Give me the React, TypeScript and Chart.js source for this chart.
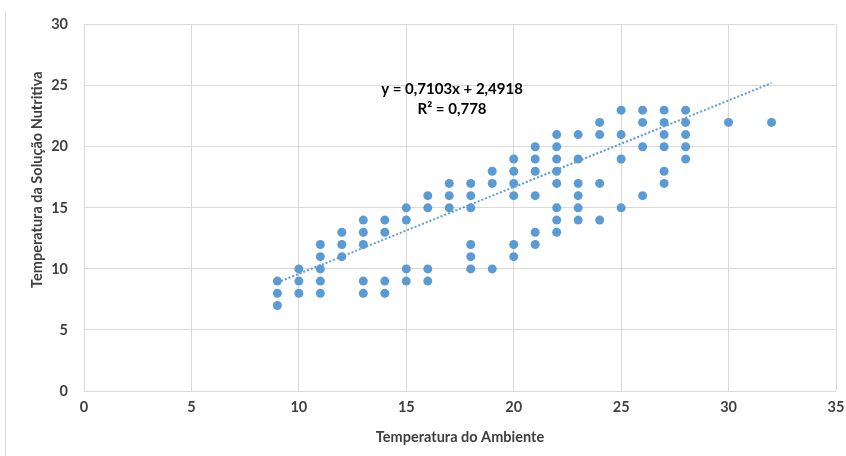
import React, { useEffect, useRef } from "react";
import { Chart, registerables } from "chart.js";

Chart.register(...registerables);

// Ambient temperature (x) and nutrient-solution temperature (y), one pair per point
const ambient = [
  9, 9, 9,
  10, 10, 10,
  11, 11, 11, 11, 11,
  12, 12, 12,
  13, 13, 13, 13, 13,
  14, 14, 14, 14,
  15, 15, 15, 15,
  16, 16, 16, 16,
  17, 17, 17,
  18, 18, 18, 18, 18, 18,
  19, 19, 19,
  20, 20, 20, 20, 20, 20,
  21, 21, 21, 21, 21, 21,
  22, 22, 22, 22, 22, 22, 22, 22,
  23, 23, 23, 23, 23, 23,
  24, 24, 24, 24,
  25, 25, 25, 25,
  26, 26, 26, 26,
  27, 27, 27, 27, 27, 27,
  28, 28, 28, 28, 28,
  30,
  32,
];
const solution = [
  9, 8, 7,
  10, 9, 8,
  12, 11, 10, 9, 8,
  13, 12, 11,
  14, 13, 12, 9, 8,
  14, 13, 9, 8,
  15, 14, 10, 9,
  16, 15, 10, 9,
  17, 16, 15,
  17, 16, 15, 12, 11, 10,
  18, 17, 10,
  19, 18, 17, 16, 12, 11,
  20, 19, 18, 16, 13, 12,
  21, 20, 19, 18, 17, 15, 14, 13,
  21, 19, 17, 16, 15, 14,
  22, 21, 17, 14,
  23, 21, 19, 15,
  23, 22, 20, 16,
  23, 22, 21, 20, 18, 17,
  23, 22, 21, 20, 19,
  22,
  22,
];

// Linear trendline as printed on the chart
const slope = 0.7103;
const intercept = 2.4918;
const equationLabel = "y = 0,7103x + 2,4918";
const r2Label = "R² = 0,778";

const xTitle = "Temperatura do Ambiente";
const yTitle = "Temperatura da Solução Nutritiva";

const BLUE = "#5B9BD5";
const TEXT = "#3F3F3F";
const GRID = "#D9D9D9";
const FONT = "Lato, 'Open Sans', sans-serif";

export default function App() {
  const canvasRef = useRef<HTMLCanvasElement | null>(null);

  useEffect(() => {
    const canvas = canvasRef.current;
    if (!canvas) return;

    const points = ambient.map((x, i) => ({ x, y: solution[i] }));
    const xMin = Math.min(...ambient);
    const xMax = Math.max(...ambient);
    const trend = [
      { x: xMin, y: slope * xMin + intercept },
      { x: xMax, y: slope * xMax + intercept },
    ];

    const textPlugin = {
      id: "extraText",
      afterDraw(chart: any) {
        const { ctx, scales, chartArea } = chart;
        ctx.save();
        ctx.fillStyle = "#000000";
        ctx.font = `bold 15px ${FONT}`;
        ctx.textAlign = "center";
        ctx.textBaseline = "middle";
        const ex = scales.x.getPixelForValue(17.13);
        const ey = scales.y.getPixelForValue(24.75);
        ctx.fillText(equationLabel, ex, ey);
        ctx.fillText(r2Label, ex, ey + 20);

        // y axis title
        ctx.fillStyle = TEXT;
        ctx.font = `bold 14.5px ${FONT}`;
        ctx.translate(37, chartArea.top + 155);
        ctx.rotate(-Math.PI / 2);
        ctx.fillText(yTitle, 0, 0);
        ctx.restore();
      },
    };

    const chart = new Chart(canvas, {
      type: "scatter",
      data: {
        datasets: [
          {
            type: "scatter",
            data: points,
            backgroundColor: BLUE,
            borderColor: BLUE,
            borderWidth: 0,
            pointRadius: 4.5,
          },
          {
            type: "line",
            data: trend,
            borderColor: BLUE,
            borderWidth: 2,
            borderDash: [2, 2],
            pointRadius: 0,
            fill: false,
          } as any,
        ],
      },
      options: {
        animation: false,
        responsive: false,
        maintainAspectRatio: false,
        layout: { padding: { left: 0, top: 20, right: 10, bottom: 0 } },
        plugins: {
          legend: { display: false },
          tooltip: { enabled: false },
        },
        scales: {
          x: {
            type: "linear",
            min: 0,
            max: 35,
            ticks: {
              stepSize: 5,
              color: TEXT,
              font: { family: FONT, size: 14.5, weight: "bold" },
              padding: 8,
            },
            grid: { color: GRID, drawTicks: false },
            border: { display: false },
            title: {
              display: true,
              text: xTitle,
              color: TEXT,
              font: { family: FONT, size: 14.5, weight: "bold" },
              padding: { top: 0, bottom: 10 },
            },
            afterFit(scale: any) {
              scale.height = 65;
              scale.paddingRight = 0;
              scale.paddingLeft = 0;
            },
          },
          y: {
            type: "linear",
            min: 0,
            max: 30,
            ticks: {
              stepSize: 5,
              color: TEXT,
              font: { family: FONT, size: 14.5, weight: "bold" },
              padding: 16,
            },
            grid: { color: GRID, drawTicks: false },
            border: { display: false },
            afterFit(scale: any) {
              scale.width = 84;
            },
          },
        },
      },
      plugins: [textPlugin],
    });

    return () => chart.destroy();
  }, []);

  return (
    <div
      style={{
        position: "fixed",
        left: 0,
        top: 0,
        width: 846,
        height: 456,
        background: "#ffffff",
        overflow: "hidden",
      }}
    >
      <div
        style={{
          position: "absolute",
          left: 5,
          top: 12,
          width: 0,
          height: 444,
          borderLeft: "1px solid #D9D9D9",
        }}
      />
      <canvas
        ref={canvasRef}
        width={846}
        height={456}
        style={{ position: "absolute", left: 0, top: 0, width: 846, height: 456 }}
      />
    </div>
  );
}
